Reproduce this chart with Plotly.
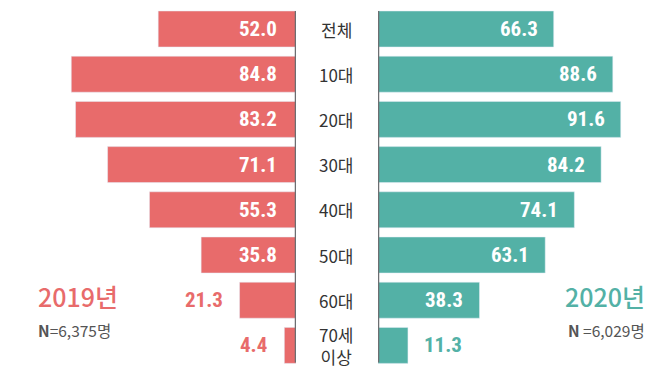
import plotly.graph_objects as go

categories = ["전체", "10대", "20대", "30대", "40대", "50대", "60대", "70세<br>이상"]
values_2019 = [52.0, 84.8, 83.2, 71.1, 55.3, 35.8, 21.3, 4.4]
values_2020 = [66.3, 88.6, 91.6, 84.2, 74.1, 63.1, 38.3, 11.3]
year_labels = ["2019년", "2020년"]
n_labels = ["<b>N</b>=6,375명", "<b>N</b> =6,029명"]

RED = "#E86B6B"
TEAL = "#53B1A6"
GRAY = "#6D6E71"
W, H = 668, 374
PX_PER_UNIT = 2.65
LEFT_AXIS = 296
RIGHT_AXIS = 378
ROW0, STEP = 29, 45.2

y_lo = -ROW0 / STEP
y_hi = (H - ROW0) / STEP
ypos = list(range(len(categories)))

fig = go.Figure()
fig.add_trace(go.Bar(x=values_2019, y=ypos, orientation="h", marker_color=RED,
                     width=0.796, xaxis="x", yaxis="y", hoverinfo="x"))
fig.add_trace(go.Bar(x=values_2020, y=ypos, orientation="h", marker_color=TEAL,
                     width=0.796, xaxis="x2", yaxis="y2", hoverinfo="x"))

val_font = "Liberation Sans Narrow, Roboto Condensed, DejaVu Sans Condensed, Roboto, sans-serif"
VS = 21
ann = []
for i, v in enumerate(values_2019):
    if v >= 30:
        ann.append(dict(x=0, y=i, xref="x", yref="y", text=f"<b>{v:.1f}</b>", showarrow=False,
                        xanchor="right", xshift=-17, font=dict(family=val_font, size=VS, color="white")))
    else:
        ann.append(dict(x=v, y=i, xref="x", yref="y", text=f"<b>{v:.1f}</b>", showarrow=False,
                        xanchor="right", xshift=-15, font=dict(family=val_font, size=VS, color=RED)))
for i, v in enumerate(values_2020):
    if v >= 20:
        ann.append(dict(x=v, y=i, xref="x2", yref="y2", text=f"<b>{v:.1f}</b>", showarrow=False,
                        xanchor="right", xshift=-14, font=dict(family=val_font, size=VS, color="white")))
    else:
        ann.append(dict(x=v, y=i, xref="x2", yref="y2", text=f"<b>{v:.1f}</b>", showarrow=False,
                        xanchor="left", xshift=14, font=dict(family=val_font, size=VS, color=TEAL)))
for i, c in enumerate(categories):
    ann.append(dict(x=(LEFT_AXIS + RIGHT_AXIS) / 2 / W, y=i, xref="paper", yref="y", text=c,
                    showarrow=False, xanchor="center", yanchor="middle",
                    font=dict(family="Noto Sans CJK KR", size=17, color="#333333")))

kfont = "Noto Sans CJK KR"
ann += [
    dict(x=36 / W, y=1 - 296 / H, xref="paper", yref="paper", text=year_labels[0], showarrow=False,
         xanchor="left", yanchor="middle", font=dict(family=kfont, size=25, color=RED, weight=500)),
    dict(x=36 / W, y=1 - 330 / H, xref="paper", yref="paper", text=n_labels[0], showarrow=False,
         xanchor="left", yanchor="middle", font=dict(family=kfont, size=15.5, color="#555555")),
    dict(x=647 / W, y=1 - 296 / H, xref="paper", yref="paper", text=year_labels[1], showarrow=False,
         xanchor="right", yanchor="middle", font=dict(family=kfont, size=25, color=TEAL, weight=500)),
    dict(x=647 / W, y=1 - 330 / H, xref="paper", yref="paper", text=n_labels[1], showarrow=False,
         xanchor="right", yanchor="middle", font=dict(family=kfont, size=15.5, color="#555555")),
]

shapes = [
    dict(type="line", xref="x", yref="y", x0=0, x1=0, y0=-0.4, y1=len(categories) - 0.62,
         line=dict(color=GRAY, width=2.5)),
    dict(type="line", xref="x2", yref="y2", x0=0, x1=0, y0=-0.4, y1=len(categories) - 0.62,
         line=dict(color=GRAY, width=2.5)),
]

fig.update_layout(
    width=W, height=H, margin=dict(l=0, r=0, t=0, b=0),
    paper_bgcolor="white", plot_bgcolor="white", showlegend=False,
    xaxis=dict(domain=[0, LEFT_AXIS / W], range=[LEFT_AXIS / PX_PER_UNIT, 0], visible=False, fixedrange=True),
    xaxis2=dict(domain=[RIGHT_AXIS / W, 1], range=[0, (W - RIGHT_AXIS) / PX_PER_UNIT], visible=False, fixedrange=True),
    yaxis=dict(range=[y_hi, y_lo], visible=False, anchor="x"),
    yaxis2=dict(range=[y_hi, y_lo], visible=False, anchor="x2", matches="y"),
    annotations=ann, shapes=shapes,
)
fig.write_html("out.html", config={"displayModeBar": False},
               post_script="document.body.style.margin='0';document.body.style.overflow='hidden';")
